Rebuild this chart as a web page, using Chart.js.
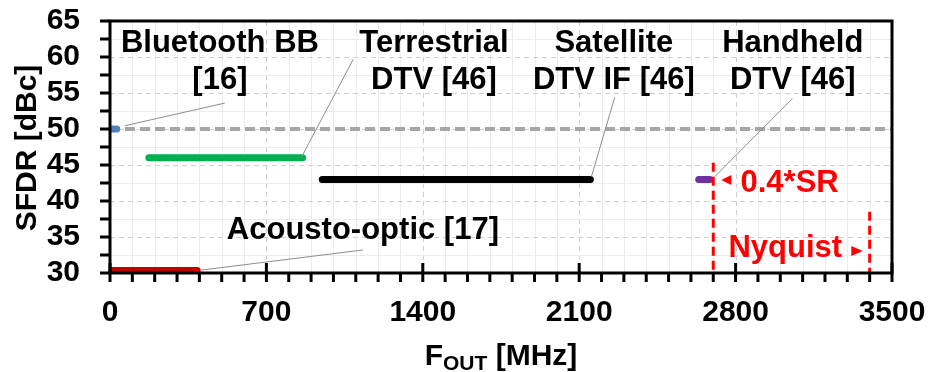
<!DOCTYPE html>
<html lang="en">
<head>
  <meta charset="UTF-8">
  <title>SFDR vs F_OUT</title>
  <script src="https://cdn.jsdelivr.net/npm/chart.js"></script>
  <style>
    html, body { margin: 0; padding: 0; background: #fff; }
    #wrap { width: 929px; height: 372px; }
  </style>
</head>
<body>
  <div id="wrap"><canvas id="sfdrChart" width="929" height="372"></canvas></div>
  <script>
    // band data: output frequency span [MHz] and SFDR [dBc]
    const bandNames = ['Bluetooth BB [16]', 'Terrestrial DTV [46]', 'Satellite DTV IF [46]', 'Handheld DTV [46]', 'Acousto-optic [17]'];
    const bandStart = [10, 174, 950, 2635, 0];
    const bandStop = [30, 862, 2150, 2685, 390];
    const bandSfdr = [50, 46, 43, 43, 30.35];
    const bandColors = ['#4f81bd', '#00b050', '#000000', '#7030a0', '#c00000'];

    const refSfdr = 50;          // grey dashed reference level
    const srLimit = 2700;        // 0.4*SR
    const nyquist = 3400;

    const xTickLabels = [0, 700, 1400, 2100, 2800, 3500];
    const yTickLabels = [30, 35, 40, 45, 50, 55, 60, 65];

    const FONT = '"Liberation Sans", Arial, sans-serif';

    // annotation text, anchored in data units
    const notes = [
      { lines: ['Bluetooth BB', '[16]'], x: 492, y: 60.63, from: [67, 50.46], to: [514, 53.6] },
      { lines: ['Terrestrial', 'DTV [46]'], x: 1450, y: 60.63, from: [858, 46.15], to: [1089, 59.7] },
      { lines: ['Satellite', 'DTV IF [46]'], x: 2255, y: 60.63, from: [2155, 43.4], to: [2259, 54.4] },
      { lines: ['Handheld', 'DTV [46]'], x: 3056, y: 60.63, from: [2707, 43.4], to: [3054, 54.2] },
      { lines: ['Acousto-optic [17]'], x: 1132, y: 34.68, from: [407, 30.4], to: [1133, 33.2] }
    ];

    const datasets = bandNames.map((name, i) => Object.assign({
      label: name,
      data: [{ x: bandStart[i], y: bandSfdr[i] }, { x: bandStop[i], y: bandSfdr[i] }],
      borderColor: bandColors[i],
      borderWidth: 7,
      borderCapStyle: 'round',
      pointRadius: 0
    }, i === 4 ? { clip: 0 } : {}));
    datasets.push({
      label: 'ref',
      data: [{ x: 0, y: refSfdr }, { x: 3500, y: refSfdr }],
      borderColor: '#a6a6a6',
      borderWidth: 4,
      borderDash: [10, 5],
      pointRadius: 0
    });

    const gridPlugin = {
      id: 'grid',
      beforeDatasetsDraw(chart) {
        const { ctx, chartArea: a, scales: { x, y } } = chart;
        ctx.save();
        ctx.lineWidth = 1;
        x.ticks.forEach(t => {
          if (t.value <= 0 || t.value >= 3500) return;
          const px = Math.round(x.getPixelForValue(t.value)) + 0.5;
          const major = xTickLabels.includes(t.value);
          ctx.strokeStyle = major ? '#cfcfcf' : '#ececec';
          ctx.setLineDash(major ? [5, 4] : []);
          ctx.beginPath(); ctx.moveTo(px, a.top); ctx.lineTo(px, a.bottom); ctx.stroke();
        });
        y.ticks.forEach(t => {
          if (t.value <= 30 || t.value >= 65) return;
          const py = Math.round(y.getPixelForValue(t.value)) + 0.5;
          const major = yTickLabels.includes(t.value);
          ctx.strokeStyle = major ? '#cfcfcf' : '#ececec';
          ctx.setLineDash(major ? [5, 4] : []);
          ctx.beginPath(); ctx.moveTo(a.left, py); ctx.lineTo(a.right, py); ctx.stroke();
        });
        ctx.restore();
      },
      afterDatasetsDraw(chart) {
        const { ctx, chartArea: a, scales: { x, y } } = chart;
        ctx.save();

        // leader lines
        ctx.strokeStyle = '#8c8c8c';
        ctx.lineWidth = 1;
        notes.forEach(n => {
          ctx.beginPath();
          ctx.moveTo(x.getPixelForValue(n.from[0]), y.getPixelForValue(n.from[1]));
          ctx.lineTo(x.getPixelForValue(n.to[0]), y.getPixelForValue(n.to[1]));
          ctx.stroke();
        });

        // red limit lines
        ctx.strokeStyle = '#ff0000';
        ctx.lineWidth = 3;
        ctx.setLineDash([9, 5]);
        [[srLimit, 45.3], [nyquist, 38.5]].forEach(([fx, top]) => {
          const px = x.getPixelForValue(fx);
          ctx.beginPath(); ctx.moveTo(px, y.getPixelForValue(top)); ctx.lineTo(px, a.bottom); ctx.stroke();
        });
        ctx.setLineDash([]);

        // box and tick marks
        ctx.strokeStyle = '#000';
        ctx.lineWidth = 3;
        ctx.strokeRect(a.left, a.top, a.right - a.left, a.bottom - a.top);
        ctx.beginPath();
        y.ticks.forEach(t => {
          const py = y.getPixelForValue(t.value);
          ctx.moveTo(a.left - 10, py); ctx.lineTo(a.left, py);
        });
        x.ticks.forEach(t => {
          const px = x.getPixelForValue(t.value);
          const major = xTickLabels.includes(t.value);
          ctx.moveTo(px, a.bottom + 9); ctx.lineTo(px, major ? a.bottom - 10 : a.bottom);
        });
        ctx.stroke();

        // annotation text
        ctx.fillStyle = '#000';
        ctx.font = 'bold 31px ' + FONT;
        ctx.textAlign = 'center';
        ctx.textBaseline = 'alphabetic';
        notes.forEach(n => {
          const px = x.getPixelForValue(n.x);
          const py = y.getPixelForValue(n.y);
          n.lines.forEach((s, k) => ctx.fillText(s, px, py + k * 37));
        });

        // red labels and arrow heads
        ctx.fillStyle = '#ff0000';
        ctx.textAlign = 'left';
        ctx.fillText('0.4*SR', x.getPixelForValue(2822), y.getPixelForValue(41.29));
        ctx.fillText('Nyquist', x.getPixelForValue(2768), y.getPixelForValue(32.18));
        const tri = (tipX, baseX, cy) => {
          ctx.beginPath();
          ctx.moveTo(tipX, cy); ctx.lineTo(baseX, cy - 5); ctx.lineTo(baseX, cy + 5);
          ctx.closePath(); ctx.fill();
        };
        tri(x.getPixelForValue(2736), x.getPixelForValue(2781), y.getPixelForValue(42.92));
        tri(x.getPixelForValue(3369), x.getPixelForValue(3318), y.getPixelForValue(33.06));

        // axis titles
        ctx.fillStyle = '#000';
        ctx.font = 'bold 30px ' + FONT;
        ctx.save();
        ctx.translate(35.5, (a.top + a.bottom) / 2 + 1);
        ctx.rotate(-Math.PI / 2);
        ctx.textAlign = 'center';
        ctx.fillText('SFDR [dBc]', 0, 0);
        ctx.restore();

        const base = 365;
        ctx.textAlign = 'left';
        ctx.font = 'bold 30px ' + FONT;
        const wF = ctx.measureText('F').width;
        const wRest = ctx.measureText(' [MHz]').width;
        ctx.font = 'bold 21px ' + FONT;
        const wSub = ctx.measureText('OUT').width;
        let sx = (a.left + a.right) / 2 - (wF + wSub + wRest) / 2;
        ctx.font = 'bold 30px ' + FONT;
        ctx.fillText('F', sx, base);
        ctx.font = 'bold 21px ' + FONT;
        ctx.fillText('OUT', sx + wF, base + 5);
        ctx.font = 'bold 30px ' + FONT;
        ctx.fillText(' [MHz]', sx + wF + wSub, base);

        ctx.restore();
      }
    };

    new Chart(document.getElementById('sfdrChart'), {
      type: 'line',
      data: { datasets: datasets },
      options: {
        responsive: false,
        animation: false,
        layout: { padding: { top: 21, right: 37, left: 0, bottom: 0 } },
        plugins: { legend: { display: false }, tooltip: { enabled: false } },
        scales: {
          x: {
            type: 'linear',
            min: 0,
            max: 3500,
            afterFit: s => { s.height = 99; s.paddingLeft = 0; s.paddingRight = 0; },
            grid: { display: false, drawTicks: false },
            border: { display: false },
            ticks: {
              stepSize: 100,
              autoSkip: false,
              maxRotation: 0,
              padding: 22,
              color: '#000',
              font: { family: FONT, size: 30, weight: 'bold' },
              callback: v => xTickLabels.includes(v) ? v : ''
            }
          },
          y: {
            min: 30,
            max: 65,
            afterFit: s => { s.width = 110; s.paddingTop = 0; s.paddingBottom = 0; },
            grid: { display: false, drawTicks: false },
            border: { display: false },
            ticks: {
              stepSize: 2.5,
              autoSkip: false,
              padding: 30,
              color: '#000',
              font: { family: FONT, size: 30, weight: 'bold' },
              callback: v => yTickLabels.includes(v) ? v : ''
            }
          }
        }
      },
      plugins: [gridPlugin]
    });
  </script>
</body>
</html>
